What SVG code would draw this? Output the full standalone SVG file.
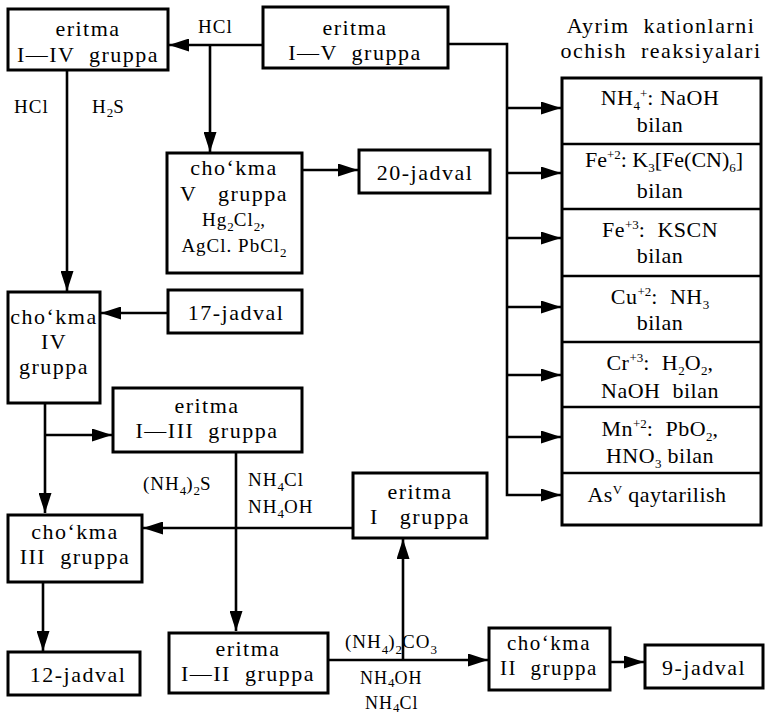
<svg xmlns="http://www.w3.org/2000/svg" width="774" height="717" viewBox="0 0 774 717" font-family="'Liberation Serif','DejaVu Serif','Times New Roman',serif">
<defs>
<marker id="ah" viewBox="0 0 10 10" refX="10" refY="5" markerWidth="20" markerHeight="13" markerUnits="userSpaceOnUse" orient="auto" preserveAspectRatio="none">
<path d="M0,0 L10,5 L0,10 z" fill="#000"/>
</marker>
<style>
rect{fill:#fff;stroke:#000;stroke-width:3}
line,path.c{fill:none;stroke:#000;stroke-width:2.6}
text{font-family:'Liberation Serif','DejaVu Serif','Times New Roman',serif;font-size:22px;fill:#000;text-anchor:middle;letter-spacing:1.5px;white-space:pre}
.s{font-size:19px;letter-spacing:1px}
.l{text-anchor:start}
.sm{font-size:13px;letter-spacing:0}
.r{font-size:22px;letter-spacing:0.5px}
</style>
</defs>
<rect x="0" y="0" width="774" height="717" style="stroke:none;fill:#fff"/>

<g id="connectors">
<path class="c" d="M263,45 H169" marker-end="url(#ah)"/>
<path class="c" d="M210,45 V152" marker-end="url(#ah)"/>
<path class="c" d="M302,170 H358" marker-end="url(#ah)"/>
<path class="c" d="M67,70 V291" marker-end="url(#ah)"/>
<path class="c" d="M168,313 H101" marker-end="url(#ah)"/>
<path class="c" d="M45,403 V513" marker-end="url(#ah)"/>
<path class="c" d="M45,435 H112" marker-end="url(#ah)"/>
<path class="c" d="M43,582 V651" marker-end="url(#ah)"/>
<path class="c" d="M236,452 V631" marker-end="url(#ah)"/>
<path class="c" d="M353,528 H143" marker-end="url(#ah)"/>
<path class="c" d="M328,660 H488" marker-end="url(#ah)"/>
<path class="c" d="M403,660 V539" marker-end="url(#ah)"/>
<path class="c" d="M610,662 H644" marker-end="url(#ah)"/>
<path class="c" d="M448,44 H507 V495 H561" marker-end="url(#ah)"/>
<path class="c" d="M507,108 H561" marker-end="url(#ah)"/>
<path class="c" d="M507,173 H561" marker-end="url(#ah)"/>
<path class="c" d="M507,238 H561" marker-end="url(#ah)"/>
<path class="c" d="M507,307 H561" marker-end="url(#ah)"/>
<path class="c" d="M507,375 H561" marker-end="url(#ah)"/>
<path class="c" d="M507,437 H561" marker-end="url(#ah)"/>
</g>

<g id="labels">
<text class="s l" x="198" y="33">HCl</text>
<text class="s l" x="14" y="113">HCl</text>
<text class="s l" x="92" y="113">H<tspan class="sm" dy="4">2</tspan><tspan dy="-4">S</tspan></text>
<text class="s l" x="143" y="490">(NH<tspan class="sm" dy="5">4</tspan><tspan dy="-5">)</tspan><tspan class="sm" dy="5">2</tspan><tspan dy="-5">S</tspan></text>
<text class="s l" x="248" y="486">NH<tspan class="sm" dy="5">4</tspan><tspan dy="-5">Cl</tspan></text>
<text class="s l" x="248" y="513">NH<tspan class="sm" dy="5">4</tspan><tspan dy="-5">OH</tspan></text>
<text class="s l" x="345" y="648">(NH<tspan class="sm" dy="6">4</tspan><tspan dy="-6">)</tspan><tspan class="sm" dy="6">2</tspan><tspan dy="-6">CO</tspan><tspan class="sm" dy="6">3</tspan></text>
<text class="s l" x="360" y="684" style="font-size:18px">NH<tspan class="sm" dy="3">4</tspan><tspan dy="-3">OH</tspan></text>
<text class="s l" x="365" y="709" style="font-size:18px">NH<tspan class="sm" dy="3">4</tspan><tspan dy="-3">Cl</tspan></text>
<text x="661" y="33">Ayrim  kationlarni</text>
<text x="661" y="58">ochish  reaksiyalari</text>
</g>

<g id="n-eritma-I-IV">
<rect x="8" y="9" width="160" height="61"/>
<text x="88" y="36">eritma</text>
<text x="88" y="62">I—IV  gruppa</text>
</g>
<g id="n-eritma-I-V">
<rect x="263" y="7" width="185" height="61"/>
<text x="355" y="35">eritma</text>
<text x="355" y="60">I—V  gruppa</text>
</g>
<g id="n-chokma-V">
<rect x="167" y="153" width="135" height="120"/>
<text x="234" y="175">cho‘kma</text>
<text x="234" y="201">V   gruppa</text>
<text class="s" x="234" y="226">Hg<tspan class="sm" dy="5">2</tspan><tspan dy="-5">Cl</tspan><tspan class="sm" dy="5">2</tspan><tspan dy="-5">,</tspan></text>
<text class="s" x="234" y="252">AgCl. PbCl<tspan class="sm" dy="5">2</tspan></text>
</g>
<g id="n-20-jadval">
<rect x="359" y="150" width="131" height="43"/>
<text x="425" y="180">20-jadval</text>
</g>
<g id="n-chokma-IV">
<rect x="8" y="292" width="92" height="111"/>
<text x="54" y="324">cho‘kma</text>
<text x="54" y="349">IV</text>
<text x="54" y="374">gruppa</text>
</g>
<g id="n-17-jadval">
<rect x="168" y="290" width="134" height="43"/>
<text x="236" y="320">17-jadval</text>
</g>
<g id="n-eritma-I-III">
<rect x="113" y="388" width="189" height="64"/>
<text x="207" y="413">eritma</text>
<text x="207" y="438">I—III  gruppa</text>
</g>
<g id="n-chokma-III">
<rect x="8" y="515" width="134" height="67"/>
<text x="75" y="539">cho‘kma</text>
<text x="75" y="564">III  gruppa</text>
</g>
<g id="n-12-jadval">
<rect x="8" y="652" width="132" height="43"/>
<text x="78" y="682">12-jadval</text>
</g>
<g id="n-eritma-I">
<rect x="353" y="473" width="134" height="65"/>
<text x="420" y="499">eritma</text>
<text x="420" y="524">I   gruppa</text>
</g>
<g id="n-eritma-I-II">
<rect x="169" y="633" width="159" height="60"/>
<text x="248" y="656">eritma</text>
<text x="248" y="681">I—II  gruppa</text>
</g>
<g id="n-chokma-II">
<rect x="489" y="628" width="121" height="62"/>
<text x="549" y="650" style="font-size:21px">cho‘kma</text>
<text x="549" y="675" style="font-size:21px">II  gruppa</text>
</g>
<g id="n-9-jadval">
<rect x="645" y="645" width="118" height="43"/>
<text x="704" y="675">9-jadval</text>
</g>
<g id="n-reactions">
<rect x="562" y="78" width="199" height="447"/>
<line x1="562" y1="144" x2="761" y2="144"/>
<line x1="562" y1="209" x2="761" y2="209"/>
<line x1="562" y1="276" x2="761" y2="276"/>
<line x1="562" y1="342" x2="761" y2="342"/>
<line x1="562" y1="407" x2="761" y2="407"/>
<line x1="562" y1="473" x2="761" y2="473"/>
<text class="r" x="660" y="105">NH<tspan class="sm" dy="5">4</tspan><tspan class="sm" dy="-12">+</tspan><tspan dy="7">: NaOH</tspan></text>
<text class="r" x="660" y="132">bilan</text>
<text class="r" x="664" y="167" style="letter-spacing:0">Fe<tspan class="sm" dy="-8">+2</tspan><tspan dy="8">: K</tspan><tspan class="sm" dy="5">3</tspan><tspan dy="-5">[Fe(CN)</tspan><tspan class="sm" dy="5">6</tspan><tspan dy="-5">]</tspan></text>
<text class="r" x="660" y="198">bilan</text>
<text class="r" x="660" y="237">Fe<tspan class="sm" dy="-8">+3</tspan><tspan dy="8">:  KSCN</tspan></text>
<text class="r" x="660" y="263">bilan</text>
<text class="r" x="660" y="304">Cu<tspan class="sm" dy="-8">+2</tspan><tspan dy="8">:  NH</tspan><tspan class="sm" dy="5">3</tspan></text>
<text class="r" x="660" y="330">bilan</text>
<text class="r" x="660" y="370">Cr<tspan class="sm" dy="-8">+3</tspan><tspan dy="8">:  H</tspan><tspan class="sm" dy="5">2</tspan><tspan dy="-5">O</tspan><tspan class="sm" dy="5">2</tspan><tspan dy="-5">,</tspan></text>
<text class="r" x="660" y="398">NaOH  bilan</text>
<text class="r" x="660" y="436">Mn<tspan class="sm" dy="-8">+2</tspan><tspan dy="8">:  PbO</tspan><tspan class="sm" dy="5">2</tspan><tspan dy="-5">,</tspan></text>
<text class="r" x="660" y="463">HNO<tspan class="sm" dy="5">3</tspan><tspan dy="-5"> bilan</tspan></text>
<text class="r" x="657" y="502">As<tspan class="sm" dy="-8">V</tspan><tspan dy="8"> qaytarilish</tspan></text>
</g>
</svg>
